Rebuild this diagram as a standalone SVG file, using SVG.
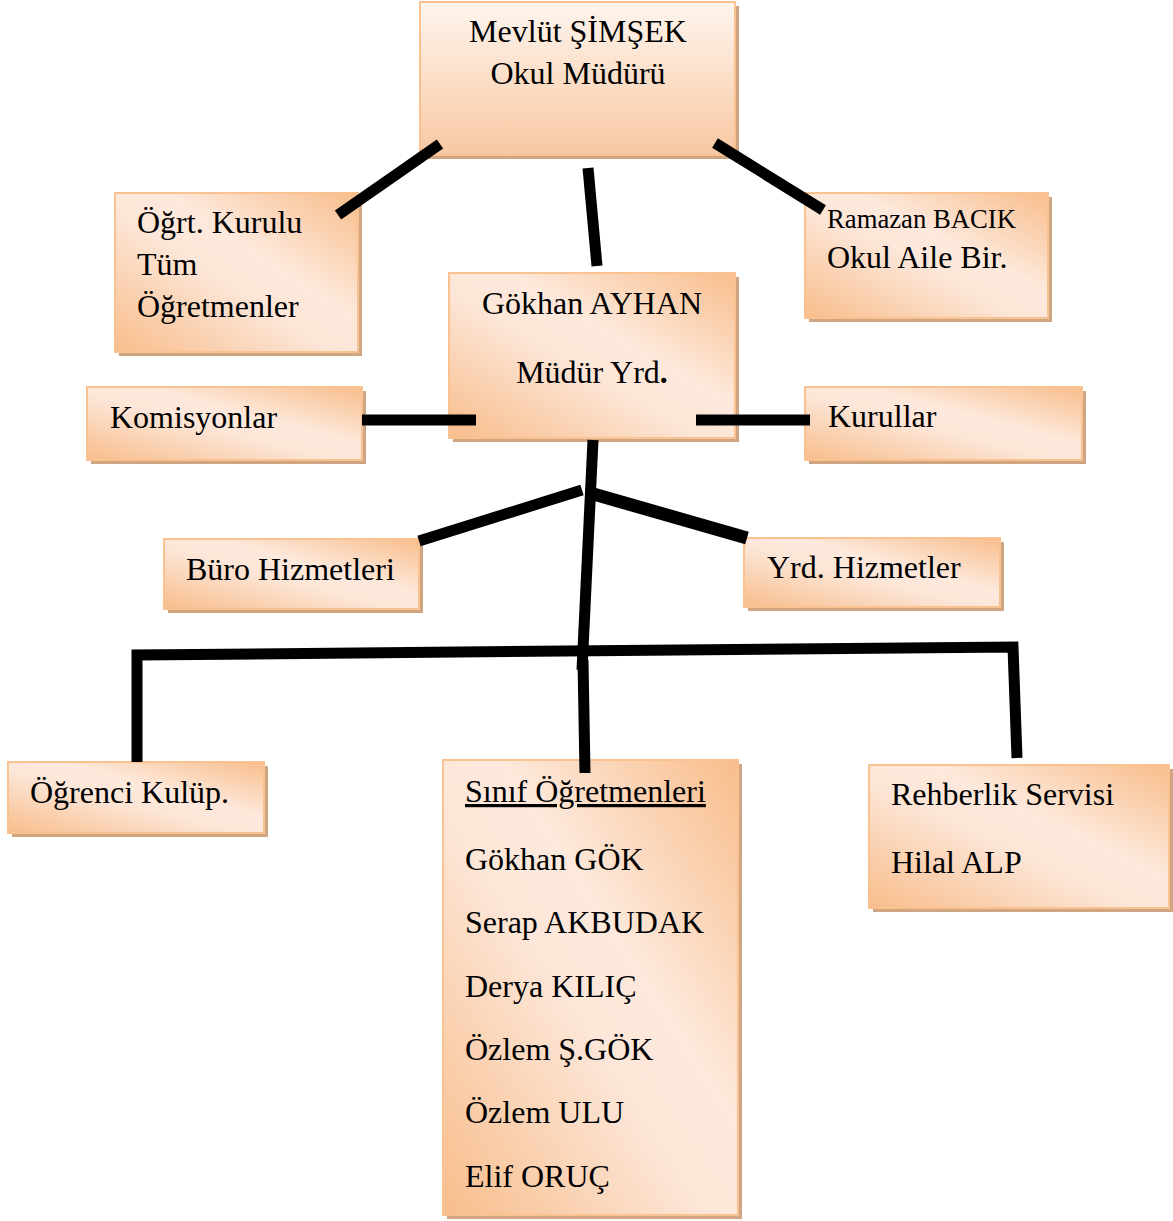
<svg xmlns="http://www.w3.org/2000/svg" width="1173" height="1221" viewBox="0 0 1173 1221">
<style>
.sh{fill:#cfa582}
.bx{stroke:#fac191;stroke-width:2}
.d{fill:url(#gd)}
.v{fill:url(#gv)}
text{font-family:"Liberation Serif","Times New Roman",serif;font-size:32px;fill:#000}
.c{text-anchor:middle}
.ln{fill:none;stroke:#000;stroke-width:11;stroke-linejoin:miter;stroke-linecap:butt}
</style>
<defs>
<linearGradient id="gd" x1="0" y1="1" x2="1" y2="0">
<stop offset="0" stop-color="#f8bd8b"/>
<stop offset="0.45" stop-color="#fce6d8"/>
<stop offset="0.6" stop-color="#fde9dc"/>
<stop offset="1" stop-color="#f8bd8b"/>
</linearGradient>
<linearGradient id="gv" x1="0" y1="0" x2="0" y2="1">
<stop offset="0" stop-color="#fef5ee"/>
<stop offset="1" stop-color="#f8c8a2"/>
</linearGradient>
</defs>

<g id="n-mudur">
<rect class="sh" x="424" y="6" width="315" height="153"/>
<rect class="bx v" x="420" y="2" width="315" height="153"/>
<text class="c" x="578" y="42">Mevlüt ŞİMŞEK</text>
<text class="c" x="578" y="84">Okul Müdürü</text>
</g>

<g id="n-ogrt">
<rect class="sh" x="119" y="197" width="243" height="159"/>
<rect class="bx d" x="115" y="193" width="243" height="159"/>
<text x="137" y="233">Öğrt. Kurulu</text>
<text x="137" y="275">Tüm</text>
<text x="137" y="317">Öğretmenler</text>
</g>

<g id="n-ramazan">
<rect class="sh" x="809" y="197" width="243" height="125"/>
<rect class="bx d" x="805" y="193" width="243" height="125"/>
<text x="827" y="228" style="font-size:26.7px">Ramazan BACIK</text>
<text x="827" y="268">Okul Aile Bir.</text>
</g>

<g id="n-ayhan">
<rect class="sh" x="453" y="277" width="286" height="165"/>
<rect class="bx d" x="449" y="273" width="286" height="165"/>
<text class="c" x="592" y="314">Gökhan AYHAN</text>
<text class="c" x="592" y="383">Müdür Yrd<tspan font-weight="bold">.</tspan></text>
</g>

<g id="n-komisyon">
<rect class="sh" x="91" y="391" width="275" height="73"/>
<rect class="bx d" x="87" y="387" width="275" height="73"/>
<text x="110" y="428">Komisyonlar</text>
</g>

<g id="n-kurullar">
<rect class="sh" x="809" y="391" width="277" height="73"/>
<rect class="bx d" x="805" y="387" width="277" height="73"/>
<text x="828" y="427">Kurullar</text>
</g>

<g id="n-buro">
<rect class="sh" x="168" y="543" width="255" height="70"/>
<rect class="bx d" x="164" y="539" width="255" height="70"/>
<text x="186" y="580">Büro Hizmetleri</text>
</g>

<g id="n-yrd">
<rect class="sh" x="748" y="542" width="256" height="69"/>
<rect class="bx d" x="744" y="538" width="256" height="69"/>
<text x="767" y="578">Yrd. Hizmetler</text>
</g>

<g id="n-kulup">
<rect class="sh" x="12" y="766" width="256" height="71"/>
<rect class="bx d" x="8" y="762" width="256" height="71"/>
<text x="30" y="803">Öğrenci Kulüp.</text>
</g>

<g id="n-sinif">
<rect class="sh" x="447" y="764" width="295" height="455"/>
<rect class="bx d" x="443" y="760" width="295" height="455"/>
<text x="465" y="802" text-decoration="underline">Sınıf Öğretmenleri</text>
<text x="465" y="870">Gökhan GÖK</text>
<text x="465" y="933">Serap AKBUDAK</text>
<text x="465" y="997">Derya KILIÇ</text>
<text x="465" y="1060">Özlem Ş.GÖK</text>
<text x="465" y="1123">Özlem ULU</text>
<text x="465" y="1187">Elif ORUÇ</text>
</g>

<g id="n-rehber">
<rect class="sh" x="873" y="769" width="300" height="143"/>
<rect class="bx d" x="869" y="765" width="300" height="143"/>
<text x="891" y="805">Rehberlik Servisi</text>
<text x="891" y="873">Hilal ALP</text>
</g>

<g id="connectors">
<line class="ln" x1="440" y1="144" x2="338" y2="215"/>
<line class="ln" x1="588" y1="168" x2="597" y2="266"/>
<line class="ln" x1="715" y1="143" x2="823" y2="210"/>
<line class="ln" x1="362" y1="420" x2="476" y2="420"/>
<line class="ln" x1="696" y1="420" x2="810" y2="420"/>
<line class="ln" x1="593" y1="440" x2="582" y2="670"/>
<line class="ln" x1="419" y1="541" x2="582" y2="490"/>
<line class="ln" x1="590" y1="493" x2="747" y2="538" style="stroke-width:13"/>
<polyline class="ln" points="137,762 137,655 1013,647 1017,758"/>
<line class="ln" x1="583" y1="660" x2="585" y2="773"/>
</g>
</svg>
